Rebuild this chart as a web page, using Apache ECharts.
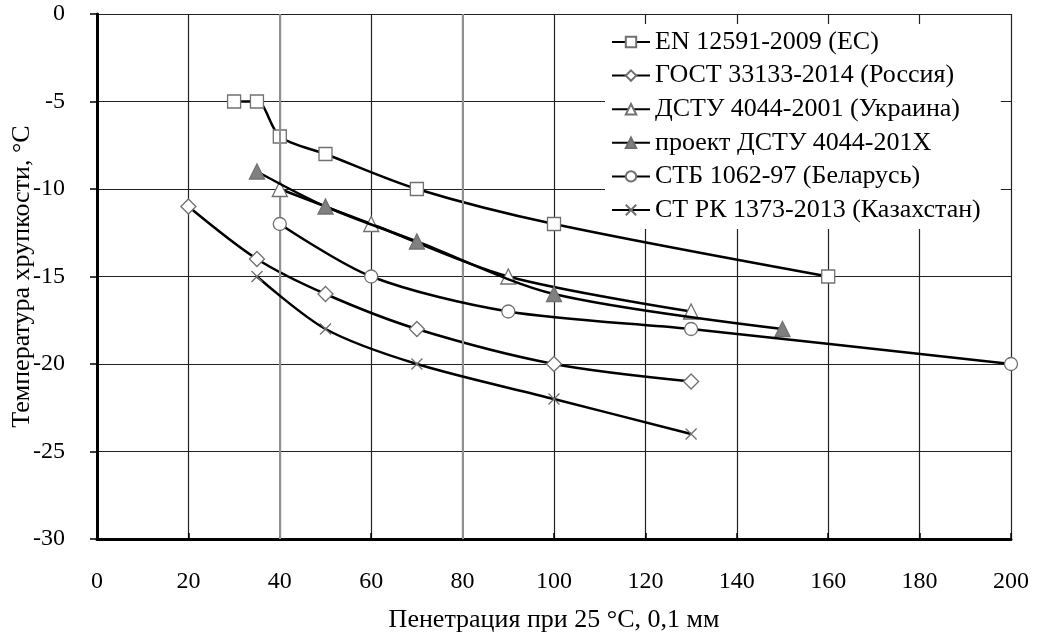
<!DOCTYPE html>
<html><head><meta charset="utf-8">
<script src="https://cdn.jsdelivr.net/npm/echarts@6/dist/echarts.min.js"></script>
<style>html,body{margin:0;padding:0;background:#fff}#c{width:1037px;height:636px}</style>
</head><body><div id="c"></div>
<script>
const seriesNames = ['EN 12591-2009 (ЕС)','ГОСТ 33133-2014 (Россия)','ДСТУ 4044-2001 (Украина)','проект ДСТУ 4044-201X','СТБ 1062-97 (Беларусь)','СТ РК 1373-2013 (Казахстан)'];
const enData = [[30,-5],[35,-5],[40,-7],[50,-8],[70,-10],[100,-12],[160,-15]];
const gostData = [[20,-11],[35,-14],[50,-16],[70,-18],[100,-20],[130,-21]];
const dstuData = [[40,-10],[60,-12],[90,-15],[130,-17]];
const proektData = [[35,-9],[50,-11],[70,-13],[100,-16],[150,-18]];
const stbData = [[40,-12],[60,-15],[90,-17],[130,-18],[200,-20]];
const strkData = [[35,-15],[50,-18],[70,-20],[100,-22],[130,-24]];
const xTicks = {min:0,max:200,interval:20};
const yTicks = {min:-30,max:0,interval:5};
const grayGridX = [40, 80];

const font = "'Liberation Serif', 'Times New Roman', serif";
const cross = 'path://M0,0L10,10M10,0L0,10';
const styles = [
  {symbol:'rect', size:13, fill:'#fff'},
  {symbol:'diamond', size:15, fill:'#fff'},
  {symbol:'triangle', size:15, fill:'#fff'},
  {symbol:'triangle', size:15, fill:'#808080'},
  {symbol:'circle', size:13, fill:'#fff'},
  {symbol:cross, size:11, fill:'none'}
];
const datas = [enData,gostData,dstuData,proektData,stbData,strkData];
const series = datas.map((d,i)=>({
  name: seriesNames[i], type:'line', data:d, smooth:0.3,
  symbol: styles[i].symbol, symbolSize: styles[i].size, showAllSymbol:true,
  lineStyle:{color:'#000',width:2.5},
  itemStyle:{color:styles[i].fill, borderColor:'#707070', borderWidth:1.3},
  z: 3+i
}));
series.push({
  type:'line', data:[], z:1, silent:true,
  markLine:{silent:true, symbol:['none','none'], label:{show:false},
    lineStyle:{color:'#909090', width:2, type:'solid'},
    data: grayGridX.map(v=>({xAxis:v}))}
});
const chart = echarts.init(document.getElementById('c'));
chart.setOption({
  animation:false,
  backgroundColor:'#fff',
  textStyle:{fontFamily:font},
  grid:{left:97,right:26,top:14,bottom:97,containLabel:false,outerBoundsMode:'none'},
  legend:{
    orient:'vertical', left:605, top:24, backgroundColor:'#fff',
    padding:[5,20,6,6], itemGap:7.6, itemWidth:38, itemHeight:13,
    textStyle:{fontFamily:font,fontSize:26,color:'#000'},
    data: seriesNames
  },
  xAxis:{type:'value', min:xTicks.min, max:xTicks.max, interval:xTicks.interval,
    name:'Пенетрация при 25 °С, 0,1 мм', nameLocation:'middle', nameGap:68, nameMoveOverlap:false,
    nameTextStyle:{fontFamily:font,fontSize:26,color:'#000'},
    axisLine:{show:true,onZero:false,lineStyle:{color:'#000',width:3}},
    axisTick:{show:true,inside:true,length:6,lineStyle:{color:'#000',width:1.5}},
    axisLabel:{fontFamily:font,fontSize:24,color:'#000',margin:31},
    splitLine:{show:true,lineStyle:{color:'#222',width:1.2}}
  },
  yAxis:{type:'value', min:yTicks.min, max:yTicks.max, interval:yTicks.interval,
    name:'Температура хрупкости, °С', nameLocation:'middle', nameGap:62, nameRotate:90, nameMoveOverlap:false,
    nameTextStyle:{fontFamily:font,fontSize:26,color:'#000'},
    axisLine:{show:true,onZero:false,lineStyle:{color:'#000',width:3}},
    axisTick:{show:true,inside:false,length:7,lineStyle:{color:'#000',width:1.5}},
    axisLabel:{fontFamily:font,fontSize:24,color:'#000',margin:32},
    splitLine:{show:true,lineStyle:{color:'#222',width:1.2}}
  },
  series: series
});
</script></body></html>
